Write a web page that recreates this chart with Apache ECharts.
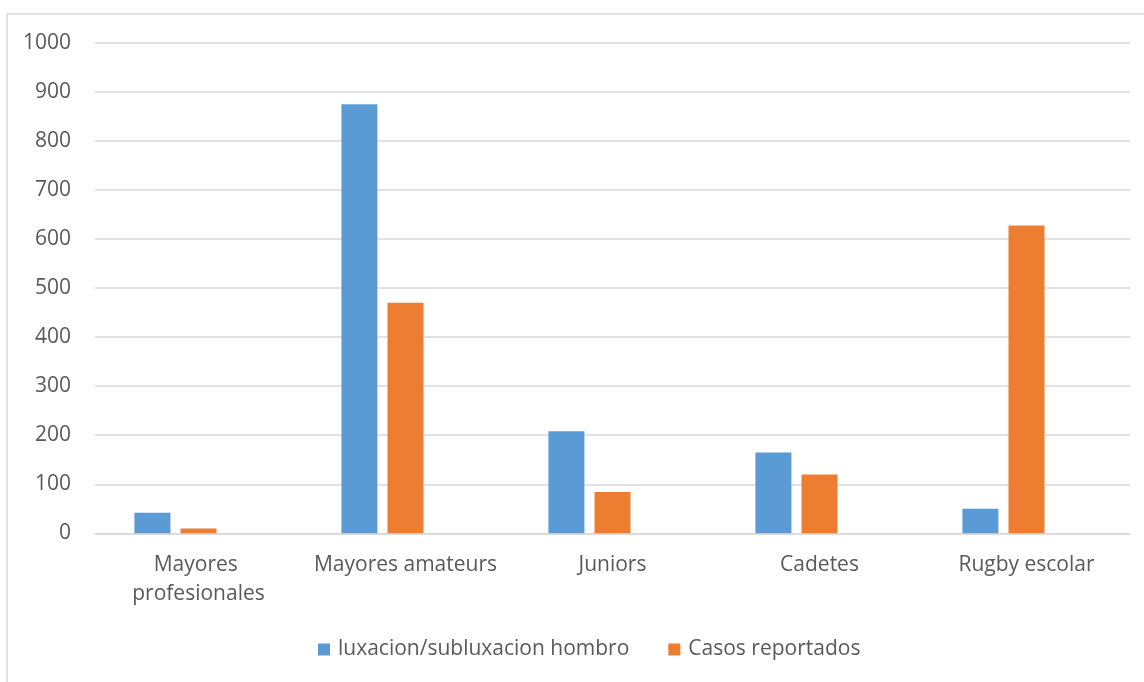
<!DOCTYPE html>
<html>
<head>
<meta charset="utf-8">
<script src="https://cdn.jsdelivr.net/npm/echarts@6/dist/echarts.min.js"></script>
<style>
  html, body { margin: 0; padding: 0; background: #fff; }
  #chart { width: 1144px; height: 682px; }
</style>
</head>
<body>
<div id="chart"></div>
<script>
// Categorías de jugadores
const categories = ['Mayores profesionales', 'Mayores amateurs', 'Juniors', 'Cadetes', 'Rugby escolar'];
// Nombres de las series
const seriesNames = ['luxacion/subluxacion hombro', 'Casos reportados'];
// Valores por serie
const luxacion = [42, 875, 208, 165, 50];
const casos = [10, 470, 84, 120, 628];
// Tercera columna vacía del grupo (sin datos)
const vacia = [null, null, null, null, null];

const FONT = '"Open Sans", "Noto Sans", sans-serif';
const TEXT = '#595959';
const LINE = '#d9d9d9';
const FS = 21;

const chart = echarts.init(document.getElementById('chart'), null, { renderer: 'canvas' });
chart.setOption({
  animation: false,
  textStyle: { fontFamily: FONT },
  graphic: [{
    type: 'rect',
    shape: { x: 7, y: 14, width: 1200, height: 720 },
    style: { fill: 'none', stroke: LINE, lineWidth: 1.5 },
    silent: true
  }],
  grid: { left: 95, right: 14, top: 43, bottom: 148.7, containLabel: false },
  legend: {
    data: seriesNames,
    top: 634,
    left: 313,
    itemWidth: 12,
    itemHeight: 12,
    itemGap: 39,
    icon: 'rect',
    textStyle: { fontFamily: FONT, fontSize: FS, color: TEXT, padding: [0, 0, 0, 3] }
  },
  xAxis: {
    type: 'category',
    data: categories,
    axisLine: { lineStyle: { color: LINE, width: 1.5 } },
    axisTick: { show: false },
    axisLabel: {
      color: TEXT, fontFamily: FONT, fontSize: FS, margin: 17,
      width: 200, overflow: 'break', lineHeight: 29, interval: 0
    }
  },
  yAxis: {
    type: 'value',
    min: 0, max: 1000, interval: 100,
    axisLine: { show: false },
    axisTick: { show: false },
    splitLine: { lineStyle: { color: LINE, width: 1.5 } },
    axisLabel: { color: TEXT, fontFamily: FONT, fontSize: FS, margin: 24, formatter: v => String(v) }
  },
  series: [
    { name: seriesNames[0], type: 'bar', data: luxacion, itemStyle: { color: '#5b9bd5' },
      barWidth: 36, barGap: '28%', barCategoryGap: '38%' },
    { name: seriesNames[1], type: 'bar', data: casos, itemStyle: { color: '#ed7d31' },
      barWidth: 36, barGap: '28%', barCategoryGap: '38%' },
    { name: '', type: 'bar', data: vacia, barWidth: 36, barGap: '28%', barCategoryGap: '38%' }
  ]
});
</script>
</body>
</html>
